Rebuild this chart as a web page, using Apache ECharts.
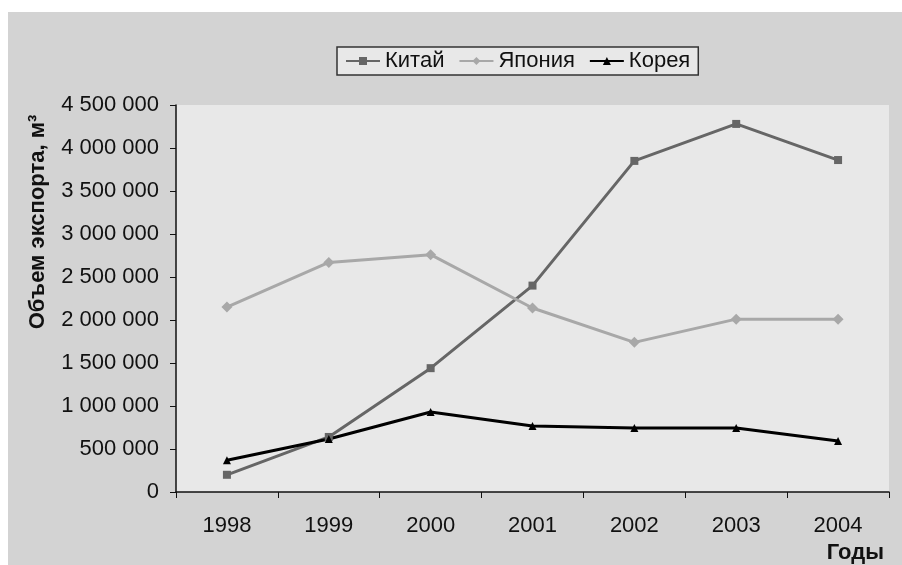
<!DOCTYPE html>
<html><head><meta charset="utf-8">
<script src="https://cdn.jsdelivr.net/npm/echarts@6/dist/echarts.min.js"></script>
<style>html,body{margin:0;padding:0;background:#fff}#c{width:902px;height:565px}</style>
</head><body><div id="c"></div>
<script>
const years = ['1998','1999','2000','2001','2002','2003','2004'];
const china = [200000, 640000, 1440000, 2400000, 3850000, 4280000, 3860000];
const japan = [2150000, 2670000, 2760000, 2140000, 1740000, 2010000, 2010000];
const korea = [370000, 616000, 930000, 767000, 744000, 744000, 593000];
const yTicks = [0, 500000, 1000000, 1500000, 2000000, 2500000, 3000000, 3500000, 4000000, 4500000];

const fmt = v => String(v).replace(/\B(?=(\d{3})+(?!\d))/g, ' ');
const font = 'Liberation Sans, Arial, sans-serif';
const chart = echarts.init(document.getElementById('c'), null, {renderer:'canvas'});
chart.setOption({
  backgroundColor: '#ffffff',
  animation: false,
  graphic: [
    {type:'rect', z:-10, shape:{x:8, y:12, width:894, height:553}, style:{fill:'#d3d3d3'}},
    {type:'text', x: 884, y: 553, style:{text:'Годы', font:'bold 22px ' + font, fill:'#111', align:'right', verticalAlign:'middle'}},
    {type:'text', x: 38, y: 222, rotation: Math.PI/2, style:{text:'Объем экспорта, м³', font:'bold 22px ' + font, fill:'#111', align:'center', verticalAlign:'middle'}},
  ],
  legend: {
    top: 47, left: 337,
    data: ['Китай','Япония','Корея'],
    itemWidth: 34, itemHeight: 10, itemGap: 14,
    padding: [3, 8, 3, 8],
    borderColor: '#333', borderWidth: 1.5, backgroundColor: '#e8e8e8',
    textStyle: {fontFamily: font, fontSize: 22, color: '#111'}
  },
  grid: {left: 176, right: 13, top: 105, bottom: 73, show: true, backgroundColor: '#e8e8e8', borderWidth: 0},
  xAxis: {
    type: 'category', data: years, boundaryGap: true,
    axisLine: {lineStyle: {color: '#111', width: 1.5}},
    axisTick: {show: true, length: 6, lineStyle: {color: '#111'}},
    axisLabel: {fontFamily: font, fontSize: 22, color: '#111', margin: 23},
  },
  yAxis: {
    type: 'value', min: 0, max: 4500000, interval: 500000,
    axisLine: {show: true, lineStyle: {color: '#111', width: 1.5}},
    axisTick: {show: true, length: 6, lineStyle: {color: '#111'}},
    splitLine: {show: false},
    axisLabel: {fontFamily: font, fontSize: 22, color: '#111', margin: 17, formatter: v => fmt(v)}
  },
  series: [
    {name: 'Китай', type: 'line', data: china, symbol: 'rect', symbolSize: 8,
      lineStyle: {color: '#666', width: 3}, itemStyle: {color: '#666'}},
    {name: 'Япония', type: 'line', data: japan, symbol: 'diamond', symbolSize: 11,
      lineStyle: {color: '#a8a8a8', width: 3}, itemStyle: {color: '#a8a8a8'}},
    {name: 'Корея', type: 'line', data: korea, symbol: 'triangle', symbolSize: 8,
      lineStyle: {color: '#000', width: 3}, itemStyle: {color: '#000'}}
  ]
});
</script></body></html>
